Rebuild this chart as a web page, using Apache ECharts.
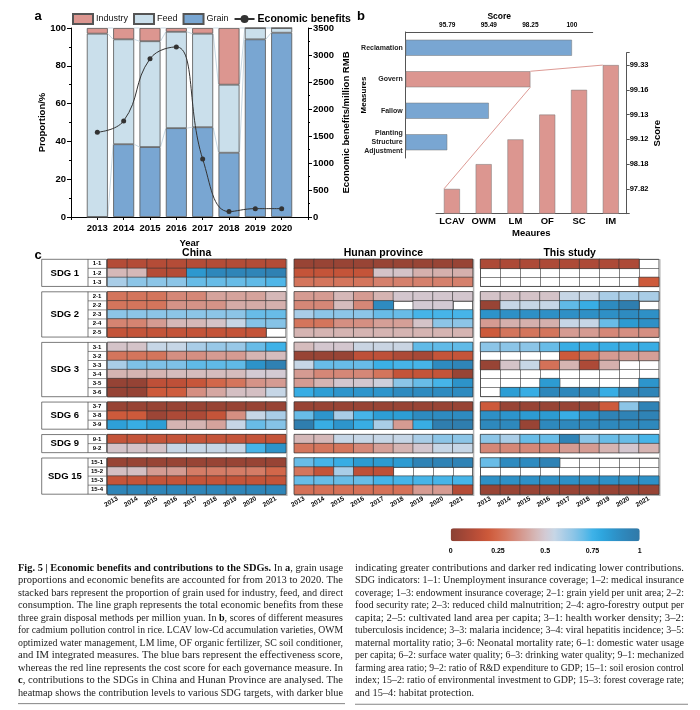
<!DOCTYPE html>
<html><head><meta charset="utf-8">
<script src="https://cdn.jsdelivr.net/npm/echarts/dist/echarts.min.js"></script>
<style>html,body{margin:0;padding:0;background:#fff}#c{width:700px;height:710px}</style>
</head><body><div id="c"></div>
<script>
// ---------------- DATA ----------------
// Panel a
const years = ['2013','2014','2015','2016','2017','2018','2019','2020'];
const grainPct = [0, 38.5, 37, 47, 47.5, 34, 94, 97.5];
const feedPct = [97, 55.5, 56, 51, 49.5, 36, 6, 2.5];
const industryPct = [3, 6, 7, 2, 3, 30, 0, 0];
const econBenefit = [1570, 1780, 2930, 3150, 1075, 100, 155, 155];

// Panel b
const effMeasures = ['Reclamation', 'Govern', 'Fallow', 'Planting\nStructure\nAdjustment'];
const effLevel = [4, 3, 2, 1];
const effTickLabels = ['95.79', '95.49', '98.25', '100'];
const zoomedMeasure = 'Govern';
const costMeasures = ['LCAV', 'OWM', 'LM', 'OF', 'SC', 'IM'];
const costLevel = [1, 2, 3, 4, 5, 6];
const costTickLabels = ['97.82', '98.18', '99.12', '99.13', '99.16', '99.33'];

// Panel c
const heatYears = ['2013','2014','2015','2016','2017','2018','2019','2020','2021'];
const regionNames = ['China', 'Hunan province', 'This study'];
const sdgNames = ['SDG 1', 'SDG 2', 'SDG 3', 'SDG 6', 'SDG 9', 'SDG 15'];
const sdgRows = [
  ['1-1','1-2','1-3'],
  ['2-1','2-2','2-3','2-4','2-5'],
  ['3-1','3-2','3-3','3-4','3-5','3-6'],
  ['3-7','3-8','3-9'],
  ['9-1','9-2'],
  ['15-1','15-2','15-3','15-4']
];
const N = null;
const chinaValues = [
  [0.12,0.12,0.12,0.12,0.12,0.12,0.12,0.12,0.12],
  [0.45,0.45,0.12,0.12,0.85,0.92,0.93,0.93,0.95],
  [0.6,0.65,0.65,0.65,0.7,0.7,0.7,0.71,0.73],
  [0.28,0.28,0.28,0.33,0.33,0.4,0.4,0.4,0.45],
  [0.28,0.28,0.28,0.36,0.36,0.36,0.42,0.42,0.43],
  [0.65,0.65,0.65,0.65,0.65,0.65,0.65,0.7,0.7],
  [0.32,0.32,0.38,0.45,0.45,0.48,0.55,0.66,0.66],
  [0.17,0.17,0.17,0.17,0.17,0.17,0.17,0.17,N],
  [0.48,0.48,0.55,0.55,0.6,0.63,0.63,0.7,0.75],
  [0.28,0.28,0.28,0.35,0.35,0.38,0.38,0.44,0.46],
  [0.6,0.67,0.67,0.67,0.71,0.71,0.71,0.87,0.95],
  [0.44,0.44,0.44,0.46,0.46,0.46,0.46,0.5,0.5],
  [0.03,0.03,0.15,0.15,0.18,0.24,0.28,0.36,0.38],
  [0.03,0.03,0.2,0.21,0.35,0.41,0.47,0.47,0.55],
  [0.04,0.04,0.04,0.04,0.04,0.04,0.04,0.04,0.04],
  [0.2,0.2,0.05,0.1,0.1,0.17,0.35,0.55,0.6],
  [0.82,0.77,0.83,0.44,0.44,0.4,0.55,0.7,0.66],
  [0.17,0.17,0.17,0.17,0.17,0.17,0.17,0.17,0.17],
  [0.48,0.48,0.48,0.55,0.55,0.55,0.55,0.74,0.87],
  [0.04,0.04,0.04,0.04,0.04,0.04,0.04,0.04,0.04],
  [0.47,0.47,0.38,0.38,0.3,0.3,0.3,0.3,0.24],
  [0.17,0.17,0.17,0.17,0.17,0.17,0.17,0.17,0.17],
  [0.93,0.93,0.93,0.93,0.93,0.93,0.93,0.93,0.93]
];
const hunanValues = [
  [0.04,0.04,0.04,0.04,0.04,0.04,0.04,0.04,0.04],
  [0.17,0.17,0.17,0.17,0.48,0.48,0.43,0.43,0.43],
  [0.28,0.28,0.28,0.28,0.31,0.31,0.31,0.31,0.31],
  [0.38,0.38,0.45,0.38,0.44,0.49,0.49,0.49,0.49],
  [0.33,0.33,0.46,0.33,0.9,N,0.5,0.5,N],
  [0.6,0.65,0.65,0.65,0.7,0.7,0.74,0.74,0.74],
  [0.28,0.28,0.35,0.35,0.39,0.39,0.48,0.65,0.65],
  [0.44,0.44,0.44,0.44,0.44,0.44,0.44,0.44,0.44],
  [0.46,0.49,0.49,0.54,0.54,0.54,0.71,0.71,0.71],
  [0.04,0.04,0.04,0.15,0.15,0.1,0.08,0.17,0.17],
  [0.55,0.7,0.7,0.7,0.76,0.74,0.74,0.9,0.93],
  [0.38,0.33,0.33,0.33,0.28,0.17,0.17,0.17,0.04],
  [0.38,0.44,0.49,0.49,0.52,0.65,0.7,0.74,0.87],
  [0.77,0.83,0.86,0.86,0.86,0.9,0.9,0.9,0.9],
  [0.04,0.04,0.04,0.04,0.04,0.04,0.04,0.04,0.04],
  [0.7,0.86,0.6,0.74,0.83,0.83,0.9,0.9,0.9],
  [0.97,0.77,0.86,0.77,0.6,0.38,0.77,0.97,0.97],
  [0.45,0.45,0.55,0.55,0.55,0.55,0.6,0.65,0.65],
  [0.28,0.28,0.28,0.33,0.39,0.44,0.49,0.55,0.55],
  [0.7,0.74,0.77,0.84,0.84,0.84,0.94,0.94,0.94],
  [0.28,0.17,0.6,0.15,0.15,N,N,N,N],
  [0.7,0.7,0.7,0.7,0.74,0.74,0.74,0.74,0.74],
  [0.27,0.27,0.27,0.27,0.27,0.27,0.38,0.38,0.12]
];
const studyValues = [
  [0.1,0.1,0.1,0.1,0.1,0.1,0.1,0.1,N],
  [N,N,N,N,N,N,N,N,N],
  [N,N,N,N,N,N,N,N,0.2],
  [0.48,0.48,0.48,0.48,0.55,0.55,0.6,0.6,0.6],
  [0.04,0.55,0.55,0.55,0.71,0.77,0.9,0.97,N],
  [0.87,0.88,0.88,0.88,0.88,0.88,0.88,0.9,0.88],
  [0.38,0.43,0.43,0.43,0.55,0.55,0.7,0.84,0.88],
  [0.2,0.28,0.28,0.28,0.38,0.38,0.33,0.35,0.35],
  [0.65,0.65,0.65,0.7,0.77,0.77,0.77,0.77,0.77],
  [N,N,N,N,0.2,0.28,0.38,0.39,0.39],
  [0.04,0.48,0.55,0.27,0.44,0.1,0.43,N,N],
  [N,N,N,N,N,N,N,N,N],
  [N,N,N,0.84,N,N,N,N,0.86],
  [N,0.83,0.77,0.92,0.92,0.92,0.77,0.93,0.93],
  [0.2,0.04,0.04,0.04,0.04,0.04,0.2,0.65,0.94],
  [0.88,0.86,0.84,0.84,0.77,0.86,0.94,0.94,0.94],
  [0.91,0.91,0.04,0.91,0.91,0.91,0.91,0.91,0.91],
  [0.65,0.6,0.7,0.7,0.94,0.65,0.7,0.7,0.74],
  [0.33,0.33,0.33,0.33,0.38,0.38,0.44,0.49,0.44],
  [0.7,0.9,0.9,0.94,N,N,N,N,N],
  [N,N,N,N,N,N,N,N,N],
  [0.88,0.88,0.88,0.88,0.88,0.88,0.88,0.88,0.88],
  [0.04,0.04,0.04,0.04,0.04,0.04,0.04,0.04,0.04]
];
const colorbarTicks = [0, 0.25, 0.5, 0.75, 1];

const captionLeft = [
  '{b|Fig. 5 | Economic benefits and contributions to the SDGs.} In {b|a}, grain usage',
  'proportions and economic benefits are accounted for from 2013 to 2020. The',
  'stacked bars represent the proportion of grain used for industry, feed, and direct',
  'consumption. The line graph represents the total economic benefits from these',
  'three grain disposal methods per million yuan. In {b|b}, scores of different measures',
  'for cadmium pollution control in rice. LCAV low-Cd accumulation varieties, OWM',
  'optimized water management, LM lime, OF organic fertilizer, SC soil conditioner,',
  'and IM integrated measures. The blue bars represent the effectiveness score,',
  'whereas the red line represents the cost score for each governance measure. In',
  '{b|c}, contributions to the SDGs in China and Hunan Province are analysed. The',
  'heatmap shows the contribution levels to various SDG targets, with darker blue'
];
const captionRight = [
  'indicating greater contributions and darker red indicating lower contributions.',
  'SDG indicators: 1\u20131: Unemployment insurance coverage; 1\u20132: medical insurance',
  'coverage; 1\u20133: endowment insurance coverage; 2\u20131: grain yield per unit area; 2\u20132:',
  'food security rate; 2\u20133: reduced child malnutrition; 2\u20134: agro-forestry output per',
  'capita; 2\u20135: cultivated land area per capita; 3\u20131: health worker density; 3\u20132:',
  'tuberculosis incidence; 3\u20133: malaria incidence; 3\u20134: viral hepatitis incidence; 3\u20135:',
  'maternal mortality ratio; 3\u20136: Neonatal mortality rate; 6\u20131: domestic water usage',
  'per capita; 6\u20132: surface water quality; 6\u20133: drinking water quality; 9\u20131: mechanized',
  'farming area ratio; 9\u20132: ratio of R&D expenditure to GDP; 15\u20131: soil erosion control',
  'index; 15\u20132: ratio of environmental investment to GDP; 15\u20133: forest coverage rate;',
  'and 15\u20134: habitat protection.'
];

// ---------------- STYLE / LAYOUT ----------------
const FONT = '"Liberation Sans", Arial, sans-serif';
const SERIF = '"Liberation Serif", "Times New Roman", serif';
const C_IND = '#dc9690', C_FEED = '#cadfeb', C_GRAIN = '#79a6d2';
const CMAP = ['#8a4133','#9c4536','#ad4a37','#be5038','#cd5a3b','#d36a4e','#d57c66','#d58f82','#d5a39c','#d5b8b8',
  '#d3cad3','#c6d6e6','#a9cde7','#8cc5e7','#68bce7','#3eb2e8','#2ea6de','#2d98cf','#2e8bc0','#2f81b3','#3079a8'];
const L = {heatLeft:[107.5, 294.3, 480.5], heatW:178.3, heatTop:259.3, rowH:9.05, gapH:5.35,
  tableLeft:41.7, tableMid:88, tableRight:106.5,
  cbLeft:450.7, cbTop:528.3, cbLen:189, cbThick:13, cbLabelY:551,
  capLeftX:18, capLeftW:325, capRightX:355, capRightW:329,
  capLeftY:568, capRightY:568, capStep:12.5, capFont:9.9};
const txt = (size, weight) => ({fontFamily: FONT, fontSize: size, fontWeight: weight || 'bold', color: '#000'});

const chart = echarts.init(document.getElementById('c'));
const grid = [], xAxis = [], yAxis = [], series = [];

// ---- Panel a ---- (padding categories at both ends keep half-empty slots like the original)
const padL = ' ', padR = '  ';
const aCats = [padL, ...years, padR];
const withPad = arr => ['-', ...arr, '-'];
const BAR_W = 21;
grid.push({left:71, top:28, width:237, height:189, outerBoundsMode:'none'});
xAxis.push({gridIndex:0, type:'category', data:aCats, boundaryGap:false,
  name:'Year', nameLocation:'middle', nameGap:21, nameMoveOverlap:false, nameTextStyle:txt(9.5),
  axisLine:{show:true, onZero:false, lineStyle:{color:'#000', width:1}},
  axisTick:{show:true, length:3, interval:0, lineStyle:{color:'#000'}},
  axisLabel:{...txt(9.5), margin:6, interval:0}, splitLine:{show:false}});
yAxis.push({gridIndex:0, type:'value', min:0, max:100, interval:20,
  name:'Proportion/%', nameLocation:'middle', nameGap:24, nameMoveOverlap:false, nameTextStyle:txt(9.5),
  axisLine:{show:true, lineStyle:{color:'#000'}},
  axisTick:{show:true, length:4, lineStyle:{color:'#000'}},
  minorTick:{show:true, splitNumber:2, length:2, lineStyle:{color:'#000'}},
  axisLabel:{...txt(9.5), margin:5}, splitLine:{show:false}});
yAxis.push({gridIndex:0, type:'value', position:'right', min:0, max:3500, interval:500,
  name:'Economic benefits/million RMB', nameLocation:'middle', nameGap:33, nameMoveOverlap:false, nameTextStyle:txt(9.5),
  axisLine:{show:true, lineStyle:{color:'#000'}},
  axisTick:{show:true, length:4, lineStyle:{color:'#000'}},
  minorTick:{show:true, splitNumber:2, length:2, lineStyle:{color:'#000'}},
  axisLabel:{...txt(9.5), margin:5, formatter: v => String(v)}, splitLine:{show:false}});
const barStyle = c => ({color:c, borderColor:'#555', borderWidth:0.8});
series.push({name:'Grain', type:'bar', xAxisIndex:0, yAxisIndex:0, stack:'use', barWidth:BAR_W,
  data: withPad(grainPct), itemStyle:barStyle(C_GRAIN)});
series.push({name:'Feed', type:'bar', xAxisIndex:0, yAxisIndex:0, stack:'use', barWidth:BAR_W,
  data: withPad(feedPct), itemStyle:barStyle(C_FEED)});
series.push({name:'Industry', type:'bar', xAxisIndex:0, yAxisIndex:0, stack:'use', barWidth:BAR_W,
  data: withPad(industryPct), itemStyle:barStyle(C_IND)});
series.push({name:'Economic benefits', type:'line', xAxisIndex:0, yAxisIndex:1, smooth:0.45,
  symbol:'circle', symbolSize:5, z:5, data: withPad(econBenefit),
  lineStyle:{color:'#333', width:1}, itemStyle:{color:'#333'}});

// ---- Panel b (top: effectiveness) ----
grid.push({left:405.7, top:32, width:187, height:126, outerBoundsMode:'none'});
xAxis.push({gridIndex:1, type:'value', position:'top', min:0, max:4.5, interval:1,
  name:'Score', nameLocation:'middle', nameGap:11, nameMoveOverlap:false, nameTextStyle:txt(8.5),
  axisLine:{show:true, lineStyle:{color:'#555'}}, axisTick:{show:false},
  axisLabel:{...txt(6.5), margin:3, formatter: v => (Number.isInteger(v) && v>=1 && v<=effTickLabels.length) ? effTickLabels[v-1] : ''},
  splitLine:{show:false}});
yAxis.push({gridIndex:1, type:'category', inverse:true, data:effMeasures,
  name:'Measures', nameLocation:'middle', nameGap:38, nameMoveOverlap:false, nameTextStyle:txt(8),
  axisLine:{show:true, lineStyle:{color:'#555'}}, axisTick:{show:false},
  axisLabel:{...txt(7), margin:3, lineHeight:9, align:'right', color:'#222', interval:0}});
series.push({type:'bar', xAxisIndex:1, yAxisIndex:2, barWidth:16,
  data: effLevel.map((v,i)=>({value:v, itemStyle:{color: effMeasures[i]===zoomedMeasure ? C_IND : C_GRAIN}})),
  itemStyle:{borderColor:'#777', borderWidth:0.5}});

// ---- Panel b (bottom: cost) ----
grid.push({left:436, top:52.7, width:190.7, height:161, outerBoundsMode:'none'});
xAxis.push({gridIndex:2, type:'category', data:costMeasures,
  name:'Meaures', nameLocation:'middle', nameGap:15, nameMoveOverlap:false, nameTextStyle:txt(9.5),
  axisLine:{show:true, lineStyle:{color:'#555'}}, axisTick:{show:false},
  axisLabel:{...txt(9.5), margin:3, interval:0}});
yAxis.push({gridIndex:2, type:'value', position:'right', min:0, max:6.5, interval:1,
  name:'Score', nameLocation:'middle', nameGap:26, nameMoveOverlap:false, nameTextStyle:txt(9.5),
  axisLine:{show:true, lineStyle:{color:'#555'}},
  axisTick:{show:true, length:3, lineStyle:{color:'#555'}},
  axisLabel:{...txt(7.5), margin:3, formatter: v => (Number.isInteger(v) && v>=1 && v<=costTickLabels.length) ? costTickLabels[v-1] : ''},
  splitLine:{show:false}});
series.push({type:'bar', xAxisIndex:2, yAxisIndex:3, barWidth:16, data:costLevel,
  itemStyle:{color:C_IND, borderColor:'#777', borderWidth:0.5}});

// ---- Panel c heatmaps ----
const regionValues = [chinaValues, hunanValues, studyValues];
const heatSeriesIdx = [];
const groupTops = [];
let rowStart = 0;
sdgRows.forEach((rows, g) => {
  const top = L.heatTop + rowStart*L.rowH + g*L.gapH;
  groupTops.push(top);
  const isLast = g === sdgRows.length - 1;
  regionValues.forEach((vals, p) => {
    grid.push({left:L.heatLeft[p], top, width:L.heatW, height:rows.length*L.rowH, show:true,
      borderColor:'#333', borderWidth:0.6, backgroundColor:'#fff', outerBoundsMode:'none'});
    const gi = grid.length - 1;
    xAxis.push({gridIndex:gi, type:'category', data:heatYears,
      axisLine:{show:false}, axisTick:{show:false},
      axisLabel:{show:isLast, ...txt(6.5), rotate:30, margin:4, interval:0},
      splitLine:{show:true, interval:0, lineStyle:{color:'#333', width:0.6}}});
    yAxis.push({gridIndex:gi, type:'category', inverse:true, data:rows,
      axisLine:{show:false}, axisTick:{show:false},
      axisLabel:{show:p===0, ...txt(6), align:'center', margin:L.heatLeft[0]-97, interval:0},
      splitLine:{show:true, interval:0, lineStyle:{color:'#333', width:0.6}}});
    const data = [];
    rows.forEach((r, ri) => vals[rowStart+ri].forEach((v, ci) => { if (v !== null) data.push([ci, ri, v]); }));
    heatSeriesIdx.push(series.length);
    series.push({type:'heatmap', xAxisIndex:xAxis.length-1, yAxisIndex:yAxis.length-1, data,
      itemStyle:{borderColor:'#333', borderWidth:0.6}, emphasis:{disabled:true}, progressive:0});
  });
  rowStart += rows.length;
});

const option = {
  backgroundColor:'#fff',
  animation:false,
  grid, xAxis, yAxis, series,
  legend:{left:67, top:8, itemWidth:20, itemHeight:10, itemGap:5, selectedMode:false,
    textStyle:{fontFamily:FONT, fontSize:9, color:'#111', padding:[0,0,0,-2]},
    data:[{name:'Industry', icon:'rect'},{name:'Feed', icon:'rect'},{name:'Grain', icon:'rect'},
      {name:'Economic benefits', textStyle:{fontSize:10.5, fontWeight:'bold', color:'#000'}}]},
  visualMap:{type:'continuous', min:0, max:1, seriesIndex:heatSeriesIdx, orient:'horizontal',
    left:L.cbLeft, top:L.cbTop, itemWidth:L.cbThick, itemHeight:L.cbLen, calculable:false,
    hoverLink:false, padding:0, inRange:{color:CMAP}}
};
chart.setOption(option);

// ---------------- GRAPHIC (annotations) ----------------
const gfx = [];
const T = (x, y, text, size, opts) => gfx.push(Object.assign({type:'text', x, y, silent:true,
  style:{text, font:`bold ${size}px ${FONT}`, fill:'#000', align:'center', verticalAlign:'middle'}}, opts||{}));
T(38, 16, 'a', 13); T(361, 16, 'b', 13); T(38, 255, 'c', 13);
regionNames.forEach((n, p) => T(L.heatLeft[p] + L.heatW/2, 253, n, 10.5));

// Faint stack-level connectors between neighbouring bars in panel a (via the chart's scales)
const levels = [grainPct, grainPct.map((g,i)=>g+feedPct[i]), grainPct.map((g,i)=>g+feedPct[i]+industryPct[i])];
levels.forEach(lv => {
  for (let i = 0; i < years.length - 1; i++) {
    const p1 = chart.convertToPixel({xAxisIndex:0, yAxisIndex:0}, [i+1, lv[i]]);
    const p2 = chart.convertToPixel({xAxisIndex:0, yAxisIndex:0}, [i+2, lv[i+1]]);
    gfx.push({type:'line', silent:true, z:-1, shape:{x1:p1[0]+BAR_W/2, y1:p1[1], x2:p2[0]-BAR_W/2, y2:p2[1]},
      style:{stroke:'#c9d9e4', lineWidth:1}});
  }
});

// SDG table
sdgRows.forEach((rows, g) => {
  const t = groupTops[g], h = rows.length*L.rowH;
  gfx.push({type:'rect', silent:true, shape:{x:L.tableLeft, y:t, width:L.tableRight-L.tableLeft, height:h},
    style:{fill:'none', stroke:'#444', lineWidth:0.7}});
  gfx.push({type:'line', silent:true, shape:{x1:L.tableMid, y1:t, x2:L.tableMid, y2:t+h}, style:{stroke:'#444', lineWidth:0.7}});
  for (let r = 1; r < rows.length; r++) {
    gfx.push({type:'line', silent:true, shape:{x1:L.tableMid, y1:t+r*L.rowH, x2:L.tableRight, y2:t+r*L.rowH},
      style:{stroke:'#444', lineWidth:0.6}});
  }
  T((L.tableLeft+L.tableMid)/2, t+h/2, sdgNames[g], 9.5);
});
// Panel frames (grey shadow right/bottom)
const lastTop = groupTops[groupTops.length-1] + sdgRows[sdgRows.length-1].length*L.rowH;
L.heatLeft.forEach(x0 => gfx.push({type:'polyline', silent:true,
  shape:{points:[[x0+L.heatW+1, L.heatTop], [x0+L.heatW+1, lastTop+1], [x0, lastTop+1]]},
  style:{fill:'none', stroke:'#b5b5b5', lineWidth:1.5}}));

// Colorbar labels
colorbarTicks.forEach(v => T(L.cbLeft + v*L.cbLen, L.cbLabelY, String(v), 7));

// Caption (justified by horizontal stretch of each full line)
const mctx = document.createElement('canvas').getContext('2d');
function measureRich(s, size) {
  let w = 0, last = 0, m; const re = /\{b\|([^}]*)\}/g;
  while ((m = re.exec(s))) {
    mctx.font = `${size}px ${SERIF}`; w += mctx.measureText(s.slice(last, m.index)).width;
    mctx.font = `bold ${size}px ${SERIF}`; w += mctx.measureText(m[1]).width;
    last = re.lastIndex;
  }
  mctx.font = `${size}px ${SERIF}`; w += mctx.measureText(s.slice(last)).width;
  return w;
}
const capStyle = (text) => ({text, font:`${L.capFont}px ${SERIF}`, fill:'#222', align:'left', verticalAlign:'middle',
  rich:{b:{fontFamily:SERIF, fontSize:L.capFont, fontWeight:'bold', fill:'#111'}}});
function addCaption(lines, x0, y0, width, lastJustified) {
  lines.forEach((s, i) => {
    const w = measureRich(s, L.capFont);
    const justify = (i < lines.length - 1) || lastJustified;
    const sx = justify ? width / w : Math.min(1.05, width / w);
    gfx.push({type:'text', silent:true, x:x0, y:y0 + i*L.capStep, scaleX:sx, style:capStyle(s)});
  });
}
addCaption(captionLeft, L.capLeftX, L.capLeftY, L.capLeftW, true);
addCaption(captionRight, L.capRightX, L.capRightY, L.capRightW, false);
const ruleL = L.capLeftY + (captionLeft.length - 0.15)*L.capStep, ruleR = L.capRightY + (captionRight.length - 0.1)*L.capStep;
gfx.push({type:'line', silent:true, shape:{x1:L.capLeftX, y1:ruleL, x2:345, y2:ruleL}, style:{stroke:'#666', lineWidth:0.8}});
gfx.push({type:'line', silent:true, shape:{x1:L.capRightX, y1:ruleR, x2:688, y2:ruleR}, style:{stroke:'#666', lineWidth:0.8}});

// Zoom connector lines from the "Govern" bar to the cost bars (through the chart's own scales)
const gi = effMeasures.indexOf(zoomedMeasure);
const gp = chart.convertToPixel({xAxisIndex:1, yAxisIndex:2}, [effLevel[gi], gi]);
const ip = chart.convertToPixel({xAxisIndex:2, yAxisIndex:3}, [costMeasures.length-1, costLevel[costLevel.length-1]]);
const lp = chart.convertToPixel({xAxisIndex:2, yAxisIndex:3}, [0, costLevel[0]]);
const hb = 8;
gfx.push({type:'line', silent:true, z:10, shape:{x1:gp[0], y1:gp[1]-hb, x2:ip[0]-hb, y2:ip[1]}, style:{stroke:'#d98f88', lineWidth:0.9}});
gfx.push({type:'line', silent:true, z:10, shape:{x1:gp[0], y1:gp[1]+hb, x2:lp[0]-hb, y2:lp[1]}, style:{stroke:'#d98f88', lineWidth:0.9}});

chart.setOption({graphic: gfx});
</script></body></html>
